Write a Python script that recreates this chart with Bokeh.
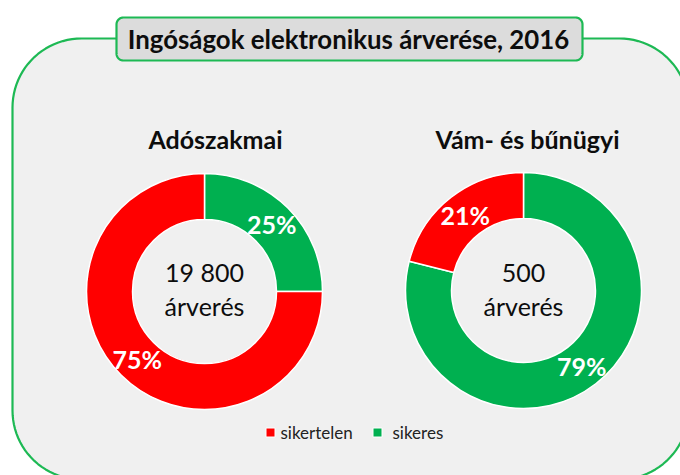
import numpy as np
from bokeh.plotting import figure
from bokeh.models import ColumnDataSource, Range1d
from bokeh.core.properties import value
from bokeh.embed import file_html
from bokeh.resources import INLINE

# ---- data ----
title = "Ingóságok elektronikus árverése, 2016"
charts = ["Adószakmai", "Vám- és bűnügyi"]
totals = ["19 800", "500"]
total_unit = "árverés"
categories = ["sikertelen", "sikeres"]
sikertelen = [75, 21]
sikeres = [25, 79]

RED = "#FF0000"
GREEN = "#00B050"
FONT = "Lato"

W, H = 680, 475
p = figure(width=W, height=H, output_backend="svg", toolbar_location=None,
           x_range=Range1d(0, W), y_range=Range1d(0, H),
           min_border=0, outline_line_color=None)
p.axis.visible = False
p.grid.visible = False
p.background_fill_color = "white"
p.border_fill_color = "white"


def rrect(x0, y0, x1, y1, r, n=24):
    xs, ys = [], []
    corners = [(x1 - r, y1 - r, 0.0), (x0 + r, y1 - r, np.pi / 2),
               (x0 + r, y0 + r, np.pi), (x1 - r, y0 + r, 1.5 * np.pi)]
    for cx, cy, a0 in corners:
        t = np.linspace(a0, a0 + np.pi / 2, n)
        xs.extend(cx + r * np.cos(t))
        ys.extend(cy + r * np.sin(t))
    return xs, ys


def Y(y):
    return H - y

# outer rounded panel
ox, oy = rrect(12, Y(479), 688, Y(38), 69)
p.patch(ox, oy, fill_color="#F0F0F0", line_color="#1DB954", line_width=2.2)

# title box
tx, ty = rrect(116, Y(60), 582, Y(17), 7)
p.patch(tx, ty, fill_color="#DCDCDC", line_color="#1DB954", line_width=2.2)
p.text(x=[348], y=[Y(38.5)], text=[title], text_font=value(FONT),
       text_font_style="bold", text_font_size="25.8px", text_color="#0D0D0D",
       text_align="center", text_baseline="middle")

# donuts
centers_x = [204, 523]
centers_y = [Y(291), Y(290)]
sub_x = [215, 527]
R_OUT, R_IN = 118, 72

wx, wy, ws, we, wc = [], [], [], [], []
lx, ly, lt = [], [], []
for i in range(len(charts)):
    vals = [sikeres[i], sikertelen[i]]
    cols = [GREEN, RED]
    tot = sum(vals)
    cum = 0.0
    for v, c in zip(vals, cols):
        f0 = cum / tot
        f1 = (cum + v) / tot
        wx.append(centers_x[i]); wy.append(centers_y[i])
        ws.append(np.pi / 2 - f1 * 2 * np.pi)
        we.append(np.pi / 2 - f0 * 2 * np.pi)
        wc.append(c)
        mid = np.pi / 2 - (f0 + f1) / 2 * 2 * np.pi
        rm = (R_OUT + R_IN) / 2
        lx.append(centers_x[i] + rm * np.cos(mid))
        ly.append(centers_y[i] + rm * np.sin(mid))
        lt.append(f"{v}%")
        cum += v

p.annular_wedge(x="x", y="y", inner_radius=R_IN, outer_radius=R_OUT,
                start_angle="s", end_angle="e", fill_color="c",
                line_color="white", line_width=1.5,
                source=ColumnDataSource(dict(x=wx, y=wy, s=ws, e=we, c=wc)))

p.text(x=lx, y=ly, text=lt, text_font=value(FONT), text_font_style="bold",
       text_font_size="25px", text_color="white", text_align="center",
       text_baseline="middle")

# subtitles
p.text(x=sub_x, y=[Y(138)] * 2, text=charts, text_font=value(FONT),
       text_font_style="bold", text_font_size="25px", text_color="#0D0D0D",
       text_align="center", text_baseline="middle")

# centre totals
p.text(x=centers_x, y=[Y(271), Y(272)], text=totals, text_font=value(FONT),
       text_font_size="25px", text_color="#0D0D0D", text_align="center",
       text_baseline="middle")
p.text(x=centers_x, y=[Y(305), Y(305)], text=[total_unit] * 2,
       text_font=value(FONT), text_font_size="25px", text_color="#0D0D0D",
       text_align="center", text_baseline="middle")

# legend
leg_sq_x = [270, 377]
leg_tx = [280, 392]
p.scatter(x=leg_sq_x, y=[Y(432)] * 2, marker="square", size=9,
          fill_color=[RED, GREEN], line_color="white", line_width=1)
p.text(x=leg_tx, y=[Y(432)] * 2, text=categories, text_font=value(FONT),
       text_font_size="17px", text_color="#222222", text_align="left",
       text_baseline="middle")

open("out.html", "w").write(file_html(p, INLINE))
